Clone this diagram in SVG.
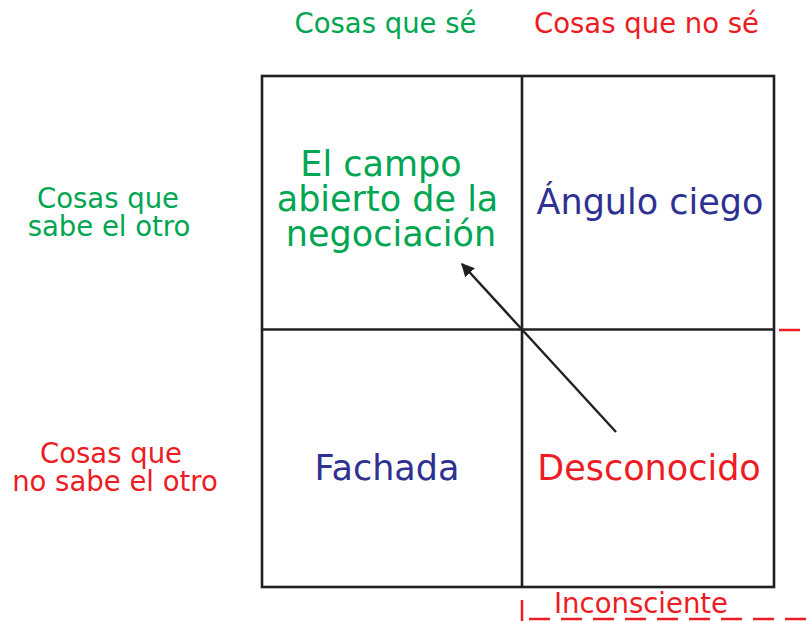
<svg xmlns="http://www.w3.org/2000/svg" width="807" height="621" viewBox="0 0 807 621">
<style>
text{font-family:"DejaVu Sans",Verdana,sans-serif;text-anchor:middle}
.s{font-size:27.5px}
.b{font-size:35px}
.g{fill:#00a651}
.r{fill:#ed1c24}
.u{fill:#2e3192}
.k{stroke:#231f20;stroke-width:2.6;fill:none}
.rd{stroke:#ed1c24;stroke-width:2.5;fill:none}
</style>
<defs>
<marker id="ah" viewBox="0 0 10 10" refX="9" refY="5" markerWidth="5.5" markerHeight="5.5" orient="auto" markerUnits="strokeWidth">
<path d="M0,0 L10,5 L0,10 z" fill="#231f20"/>
</marker>
</defs>
<rect id="bg" width="807" height="621" fill="#fff"/>
<g id="headers">
<text class="s g" x="385.5" y="33">Cosas que sé</text>
<text class="s r" x="646.5" y="33">Cosas que no sé</text>
<text class="s g"><tspan x="108" y="208">Cosas que</tspan><tspan x="109" y="236">sabe el otro</tspan></text>
<text class="s r"><tspan x="111" y="463">Cosas que</tspan><tspan x="115" y="491">no sabe el otro</tspan></text>
</g>
<g id="grid">
<rect class="k" x="262" y="76" width="512" height="511"/>
<line class="k" x1="522" y1="76" x2="522" y2="587"/>
<line class="k" x1="262" y1="329.5" x2="774" y2="329.5"/>
</g>
<g id="campo-abierto">
<text class="b g"><tspan x="381" y="176">El campo</tspan><tspan x="387.5" y="211">abierto de la</tspan><tspan x="391" y="246">negociación</tspan></text>
</g>
<g id="angulo-ciego"><text class="b u" x="650" y="214">Ángulo ciego</text></g>
<g id="fachada"><text class="b u" x="387" y="480">Fachada</text></g>
<g id="desconocido"><text class="b r" x="649" y="480">Desconocido</text></g>
<g id="inconsciente">
<text class="s r" x="641" y="613">Inconsciente</text>
<line class="rd" x1="522" y1="600" x2="522" y2="621"/>
<line class="rd" x1="529" y1="619" x2="807" y2="619" stroke-dasharray="21 11"/>
<line class="rd" x1="779" y1="330" x2="800" y2="330"/>
</g>
<g id="connectors">
<line x1="616" y1="432" x2="462" y2="264" stroke="#231f20" stroke-width="2.4" marker-end="url(#ah)"/>
</g>
</svg>
